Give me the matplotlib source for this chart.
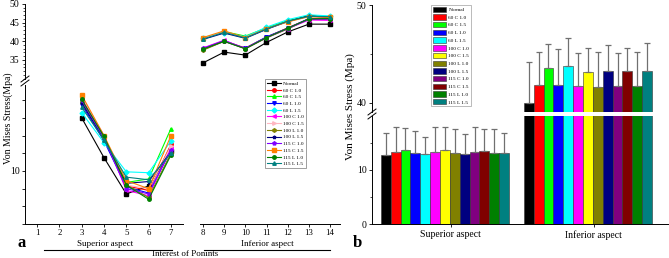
import matplotlib
matplotlib.use("Agg")
import matplotlib.pyplot as plt
from matplotlib.lines import Line2D
from matplotlib.patches import Patch
import numpy as np

plt.rcParams['font.family'] = ['Liberation Serif', 'DejaVu Serif']

W, H = 669, 258

labels = ['Normal', '60 C 1.0', '60 C 1.5', '60 L 1.0', '60 L 1.5',
          '100 C 1.0', '100 C 1.5', '100 L 1.0', '100 L 1.5',
          '115 C 1.0', '115 C 1.5', '115 L 1.0', '115 L 1.5']

line_colors = ['black', 'red', '#00ff00', 'blue', 'cyan', 'magenta', '#ffb6c1',
               '#808000', '#000080', '#8000ff', '#ff8000', '#008000', '#008080']
bar_colors = ['black', 'red', '#00ff00', 'blue', 'cyan', 'magenta', 'yellow',
              '#808000', '#000080', '#800080', '#800000', '#008000', '#008080']
markers = ['s', 'o', '^', 'v', 'D', '<', '>', 'h', '*', 'p', 's', 'o', '^']

# panel a: superior points 3..7
sup_pts = [3, 4, 5, 6, 7]
sup_vals = [
    [13.0, 10.75, 8.7, 9.15, 11.1],
    [14.1, 11.9, 9.15, 8.9, 11.5],
    [13.95, 11.8, 9.35, 9.55, 12.4],
    [13.75, 11.7, 9.1, 8.75, 11.2],
    [13.3, 11.6, 9.95, 9.9, 11.7],
    [14.15, 12.0, 8.9, 8.6, 11.3],
    [14.2, 12.0, 9.2, 9.0, 11.4],
    [13.9, 11.9, 9.2, 8.5, 11.0],
    [13.85, 11.8, 9.3, 9.4, 11.1],
    [14.0, 11.85, 9.0, 8.7, 11.2],
    [14.3, 12.0, 9.45, 9.0, 12.0],
    [14.05, 11.95, 9.2, 8.4, 10.9],
    [13.6, 11.75, 9.65, 9.5, 11.0],
]

# panel a: inferior points 8..14
inf_pts = [8, 9, 10, 11, 12, 13, 14]
inf_vals = [
    [34.2, 37.1, 36.3, 39.7, 42.5, 44.6, 44.6],
    [38.0, 40.1, 38.2, 41.1, 43.6, 46.0, 46.0],
    [40.6, 42.6, 41.4, 43.6, 45.5, 46.9, 46.6],
    [37.8, 40.0, 38.1, 41.2, 43.5, 46.1, 46.2],
    [41.0, 42.3, 41.2, 43.8, 45.8, 47.1, 46.8],
    [38.2, 40.3, 38.0, 41.0, 43.4, 45.7, 45.6],
    [40.7, 42.5, 41.0, 43.3, 45.3, 46.6, 46.3],
    [37.6, 40.0, 38.0, 40.9, 43.3, 46.0, 46.1],
    [40.5, 42.2, 40.8, 43.2, 45.3, 46.8, 46.4],
    [38.1, 40.2, 38.1, 41.0, 43.4, 45.9, 45.9],
    [41.0, 42.8, 41.0, 43.4, 45.2, 46.6, 46.4],
    [37.9, 40.0, 38.0, 41.0, 43.5, 46.0, 46.1],
    [40.6, 42.4, 40.9, 43.3, 45.4, 46.7, 46.6],
]

# panel b: mean and SD
groups = ['Superior aspect', 'Inferior aspect']
sup_mean = [12.8, 13.3, 13.7, 13.1, 13.0, 13.3, 13.7, 13.1, 13.0, 13.3, 13.5, 13.1, 13.1]
sup_err = [4.1, 4.7, 4.1, 4.1, 3.1, 4.7, 4.3, 4.5, 3.7, 4.7, 4.1, 4.5, 3.8]
inf_mean = [40.0, 41.8, 43.6, 41.8, 43.8, 41.7, 43.2, 41.6, 43.3, 41.7, 43.3, 41.7, 43.3]
inf_err = [4.2, 3.4, 2.4, 3.7, 2.8, 3.4, 2.4, 3.6, 2.6, 3.4, 2.3, 3.5, 2.8]


def rect(x0, y0, x1, y1):
    return [x0 / W, 1 - y1 / H, (x1 - x0) / W, (y1 - y0) / H]


def slash(fig, x, y):
    for dy in (-2, 2):
        fig.add_artist(Line2D([(x - 4) / W, (x + 4) / W],
                              [1 - (y + dy + 3) / H, 1 - (y + dy - 3) / H],
                              color='black', lw=0.7, transform=fig.transFigure))


fig = plt.figure(figsize=(W / 100, H / 100), dpi=100)
tick_kw = dict(labelsize=7, length=2.5, width=0.6, direction='out', pad=1.5)

# ---- panel a ----
ax_top = fig.add_axes(rect(25, 4, 340, 78.6))
ax_ll = fig.add_axes(rect(25, 85, 183, 224))
ax_lr = fig.add_axes(rect(200, 85, 340, 224))
for ax in (ax_top, ax_ll, ax_lr):
    ax.patch.set_alpha(0)
    for s in ax.spines.values():
        s.set_linewidth(0.7)

ax_top.set_xlim(-0.4, 14.47)
ax_top.set_ylim(30, 50)
for s in ('top', 'right', 'bottom'):
    ax_top.spines[s].set_visible(False)
ax_top.set_xticks([])
ax_top.set_yticks([35, 40, 45, 50])
ax_top.set_yticks(np.arange(30, 51, 1), minor=True)
ax_top.tick_params(axis='y', **tick_kw)
ax_top.tick_params(axis='y', which='minor', length=1.5, width=0.5)

ax_ll.set_xlim(0.46, 7.54)
ax_ll.set_ylim(7, 14.86)
for s in ('top', 'right'):
    ax_ll.spines[s].set_visible(False)
ax_ll.set_xticks(range(1, 8))
ax_ll.set_yticks(range(7, 15))
ax_ll.set_yticklabels(['10' if v == 10 else '' for v in range(7, 15)])
ax_ll.tick_params(**tick_kw)
ax_ll.tick_params(axis='x', labelsize=6.3, pad=1)

ax_lr.set_xlim(7.86, 14.47)
ax_lr.set_ylim(7, 14.86)
for s in ('top', 'right', 'left'):
    ax_lr.spines[s].set_visible(False)
ax_lr.set_yticks([])
ax_lr.set_xticks(range(8, 15))
ax_lr.tick_params(**tick_kw)
ax_lr.tick_params(axis='x', labelsize=6.3, pad=1)

handles = []
for i, lab in enumerate(labels):
    kw = dict(color=line_colors[i], marker=markers[i], lw=0.8, ms=2.5)
    ax_ll.plot(sup_pts, sup_vals[i], **kw)
    ax_top.plot(inf_pts, inf_vals[i], **kw)
    handles.append(Line2D([], [], label=lab, **kw))

fig.legend(handles=handles, loc='upper left', bbox_to_anchor=(265 / W, 1 - 79 / H),
           fontsize=3.8, frameon=True, fancybox=False, edgecolor='#555555',
           handlelength=2.6, labelspacing=0.38, borderpad=0.4, handletextpad=0.4,
           borderaxespad=0).get_frame().set_linewidth(0.5)

slash(fig, 25, 81)
fig.text(8 / W, 1 - 118 / H, 'Von Mises Stress(Mpa)', rotation=90,
         ha='center', va='center', fontsize=7)
fig.text(22 / W, 1 - 243 / H, 'a', fontsize=12, fontweight='bold', ha='center', va='center')
fig.text(105 / W, 1 - 244 / H, 'Superior aspect', fontsize=6.5, ha='center', va='center')
fig.text(267 / W, 1 - 244 / H, 'Inferior aspect', fontsize=6.5, ha='center', va='center')
fig.add_artist(Line2D([44 / W, 172 / W], [1 - 249.5 / H] * 2, color='black', lw=0.8,
                      transform=fig.transFigure))
fig.add_artist(Line2D([204 / W, 330 / W], [1 - 249.5 / H] * 2, color='black', lw=0.8,
                      transform=fig.transFigure))
fig.text(185 / W, 1 - 254 / H, 'Interest of Ponints', fontsize=6.5, ha='center', va='center')

# ---- panel b ----
ax_bt = fig.add_axes(rect(372, 5, 668, 112))
ax_bb = fig.add_axes(rect(372, 116, 668, 224))
for ax in (ax_bt, ax_bb):
    ax.patch.set_alpha(0)
    for s in ax.spines.values():
        s.set_linewidth(0.7)

n = len(labels)
w = 0.069
xg = np.arange(len(groups))
err_kw = dict(fmt='none', ecolor='#707070', elinewidth=0.9, capsize=2, capthick=0.9)
for i in range(n):
    xs = xg + (i - 6) * w - 0.04
    vals = [sup_mean[i], inf_mean[i]]
    for ax in (ax_bt, ax_bb):
        ax.bar(xs, vals, width=w, color=bar_colors[i], edgecolor='#333333', linewidth=0.4)
    ax_bb.errorbar(xs[0], sup_mean[i], yerr=[[0], [sup_err[i]]], **err_kw)
    ax_bt.errorbar(xs[1], inf_mean[i], yerr=[[0], [inf_err[i]]], **err_kw)

for ax in (ax_bt, ax_bb):
    ax.set_xlim(-0.55, 1.52)

ax_bt.set_ylim(39.08, 50)
for s in ('top', 'right', 'bottom'):
    ax_bt.spines[s].set_visible(False)
ax_bt.set_xticks([])
ax_bt.set_yticks([40, 50])
ax_bt.set_yticks([45], minor=True)
ax_bt.tick_params(axis='y', **tick_kw)
ax_bt.tick_params(axis='y', which='minor', length=1.5, width=0.5)

ax_bb.set_ylim(0, 20)
for s in ('top', 'right'):
    ax_bb.spines[s].set_visible(False)
ax_bb.set_yticks([0, 10])
ax_bb.set_yticks([5, 15], minor=True)
ax_bb.set_xticks(xg)
ax_bb.set_xticklabels(groups)
ax_bb.tick_params(**tick_kw)
ax_bb.tick_params(axis='y', which='minor', length=1.5, width=0.5)
ax_bb.tick_params(axis='x', pad=2)

bar_handles = [Patch(facecolor=bar_colors[i], edgecolor='#333333', linewidth=0.4, label=lab)
               for i, lab in enumerate(labels)]
fig.legend(handles=bar_handles, loc='upper left', bbox_to_anchor=(431 / W, 1 - 5 / H),
           fontsize=3.8, frameon=True, fancybox=False, edgecolor='#888888',
           handlelength=2.6, handleheight=1.2, labelspacing=0.42, borderpad=0.3,
           handletextpad=0.4, borderaxespad=0).get_frame().set_linewidth(0.5)

slash(fig, 372, 114)
fig.text(350 / W, 1 - 107 / H, 'Von Mises Stress (Mpa)', rotation=90,
         ha='center', va='center', fontsize=8)
fig.text(357 / W, 1 - 243 / H, 'b', fontsize=12, fontweight='bold', ha='center', va='center')

fig.savefig('out.png', dpi=100)
